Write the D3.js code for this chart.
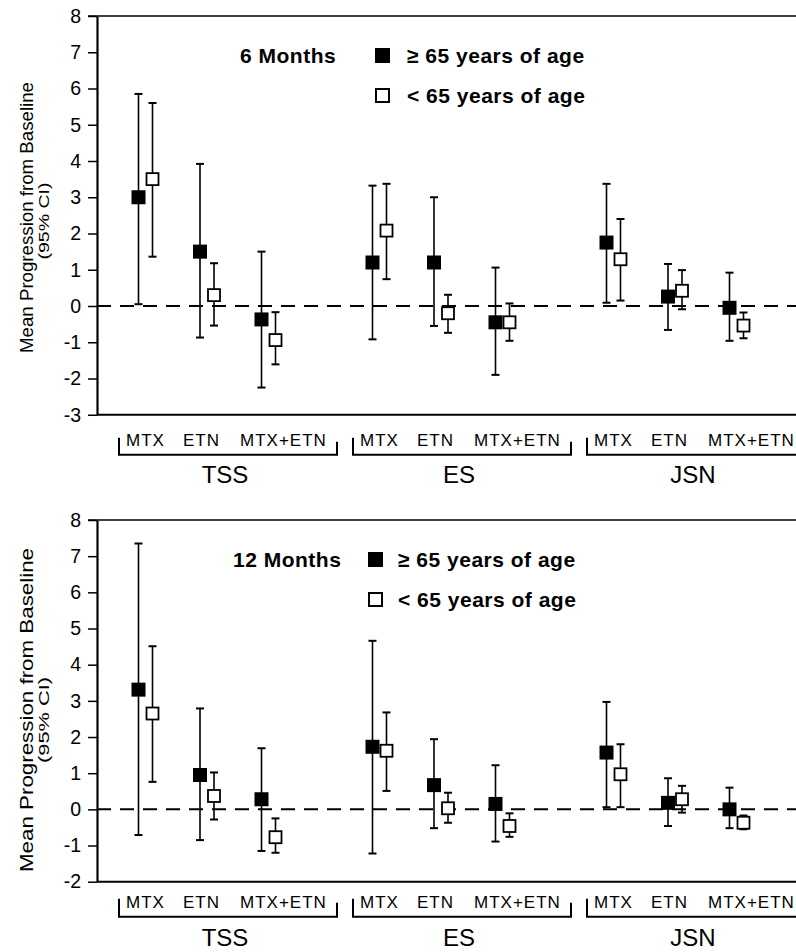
<!DOCTYPE html>
<html>
<head>
<meta charset="utf-8">
<script src="https://cdn.jsdelivr.net/npm/d3@7"></script>
<style>
body { margin: 0; background: #fff; }
svg { display: block; font-family: "Liberation Sans", Arial, sans-serif; }
</style>
</head>
<body>
<div id="chart"></div>
<script>
// Groupes de mesures, traitements et légende
const groupes = ["TSS", "ES", "JSN"];
const traitements = ["MTX", "ETN", "MTX+ETN"];
const agesLegende = ["≥ 65 years of age", "< 65 years of age"];
const ticks6 = [-3, -2, -1, 0, 1, 2, 3, 4, 5, 6, 7, 8];
const ticks12 = [-2, -1, 0, 1, 2, 3, 4, 5, 6, 7, 8];

// 6 mois : ordre TSS(MTX, ETN, MTX+ETN), ES(...), JSN(...)
const moy6Vieux = [3.0, 1.5, -0.37, 1.2, 1.2, -0.45, 1.75, 0.26, -0.05];
const bas6Vieux = [0.05, -0.87, -2.25, -0.92, -0.55, -1.9, 0.09, -0.66, -0.96];
const haut6Vieux = [5.85, 3.92, 1.5, 3.32, 3.0, 1.06, 3.37, 1.16, 0.92];
const moy6Jeunes = [3.5, 0.3, -0.94, 2.08, -0.2, -0.45, 1.29, 0.42, -0.54];
const bas6Jeunes = [1.36, -0.54, -1.61, 0.74, -0.74, -0.96, 0.15, -0.09, -0.89];
const haut6Jeunes = [5.6, 1.18, -0.17, 3.37, 0.31, 0.07, 2.4, 0.99, -0.18];

// 12 mois
const moy12Vieux = [3.31, 0.95, 0.28, 1.73, 0.67, 0.15, 1.57, 0.18, 0.0];
const bas12Vieux = [-0.71, -0.85, -1.15, -1.22, -0.52, -0.89, 0.06, -0.46, -0.52];
const haut12Vieux = [7.35, 2.79, 1.69, 4.66, 1.94, 1.22, 2.97, 0.86, 0.6];
const moy12Jeunes = [2.65, 0.37, -0.77, 1.62, 0.03, -0.46, 0.97, 0.28, -0.37];
const bas12Jeunes = [0.76, -0.28, -1.2, 0.51, -0.37, -0.76, 0.06, -0.09, -0.55];
const haut12Jeunes = [4.51, 1.02, -0.25, 2.68, 0.46, -0.11, 1.8, 0.65, -0.17];

const width = 796;
const height = 952;

const svg = d3.select("#chart")
    .append("svg")
    .attr("width", width)
    .attr("height", height);

svg.append("rect").attr("width", width).attr("height", height).attr("fill", "#fff");

// Échelles horizontales (partagées)
const x0 = d3.scaleBand().domain(groupes).range([86.5, 788.5]);
const w = x0.bandwidth();
const xIn = d3.scalePoint().domain(traitements).range([w / 2 - 58, w / 2 + 65]);
const xLab = d3.scalePoint().domain(traitements).range([w / 2 + 3.5 - 81, w / 2 + 3.5 + 33]);
const decalage = { vieux: -7, jeunes: 7 };

// Construire les points d'un panneau
const construire = (moyV, basV, hautV, moyJ, basJ, hautJ) => {
    const pts = [];
    groupes.forEach((g, gi) => {
        traitements.forEach((t, ti) => {
            const i = gi * 3 + ti;
            pts.push({ g, t, age: "vieux", m: moyV[i], lo: basV[i], hi: hautV[i] });
            pts.push({ g, t, age: "jeunes", m: moyJ[i], lo: basJ[i], hi: hautJ[i] });
        });
    });
    return pts;
};

const panneaux = [
    {
        titre: "6 Months", domaine: [-3, 8], y0: 16, y1: 414.75, ticks: ticks6,
        points: construire(moy6Vieux, bas6Vieux, haut6Vieux, moy6Jeunes, bas6Jeunes, haut6Jeunes),
        leg: { tx: 240, sx: 375, lx: 407, ty: 63 },
        tit: { c: 217.5, len: 271, c2: 221, len2: 77 },
        bas: { lab: 31, br: 40, tk: 17, grp: 68 }
    },
    {
        titre: "12 Months", domaine: [-2, 8], y0: 520, y1: 881.7, ticks: ticks12,
        points: construire(moy12Vieux, bas12Vieux, haut12Vieux, moy12Jeunes, bas12Jeunes, haut12Jeunes),
        leg: { tx: 233, sx: 368, lx: 398, ty: 567 },
        tit: { c: 710, len: 324, c2: 720, len2: 86 },
        bas: { lab: 26, br: 35, tk: 18, grp: 64 }
    }
];

const axeX = 97;
const px = d => x0(d.g) + xIn(d.t) + decalage[d.age];

panneaux.forEach(p => {
    const y = d3.scaleLinear().domain(p.domaine).range([p.y1, p.y0]);
    const g = svg.append("g");

    // Ligne zéro en tirets
    g.append("line")
        .attr("x1", axeX).attr("x2", width)
        .attr("y1", y(0)).attr("y2", y(0))
        .attr("stroke", "#000").attr("stroke-width", 2)
        .attr("stroke-dasharray", "14,9");

    // Cadre haut et bas
    g.append("line").attr("x1", axeX - 9).attr("x2", width)
        .attr("y1", y(p.domaine[1])).attr("y2", y(p.domaine[1]))
        .attr("stroke", "#000").attr("stroke-width", 1.5);
    g.append("line").attr("x1", axeX).attr("x2", width)
        .attr("y1", y(p.domaine[0])).attr("y2", y(p.domaine[0]))
        .attr("stroke", "#000").attr("stroke-width", 2);

    // Axe vertical
    const axe = g.append("g")
        .attr("transform", `translate(${axeX},0)`)
        .call(d3.axisLeft(y).tickValues(p.ticks).tickSize(9).tickSizeOuter(0).tickPadding(7).tickFormat(d => String(d)));
    axe.select(".domain").attr("stroke-width", 2.2);
    axe.selectAll(".tick line").attr("stroke-width", 1.5);
    axe.selectAll(".tick text")
        .attr("font-family", "'Liberation Sans', Arial, sans-serif")
        .attr("font-size", 19.5)
        .attr("fill", "#000");

    // Titre de l'axe
    g.append("text")
        .attr("transform", `translate(33,${p.tit.c}) rotate(-90)`)
        .attr("text-anchor", "middle")
        .attr("font-size", 18.5)
        .attr("textLength", p.tit.len)
        .attr("lengthAdjust", "spacingAndGlyphs")
        .text("Mean Progression from Baseline");
    g.append("text")
        .attr("transform", `translate(49,${p.tit.c2}) rotate(-90)`)
        .attr("text-anchor", "middle")
        .attr("font-size", 14)
        .attr("textLength", p.tit.len2)
        .attr("lengthAdjust", "spacingAndGlyphs")
        .text("(95% CI)");

    // Barres d'erreur
    const barres = g.selectAll(".err").data(p.points).enter().append("g").attr("class", "err");
    barres.append("line")
        .attr("x1", px).attr("x2", px)
        .attr("y1", d => y(d.lo)).attr("y2", d => y(d.hi))
        .attr("stroke", "#000").attr("stroke-width", 1.6);
    ["lo", "hi"].forEach(k => {
        barres.append("line")
            .attr("x1", d => px(d) - 4).attr("x2", d => px(d) + 4)
            .attr("y1", d => y(d[k])).attr("y2", d => y(d[k]))
            .attr("stroke", "#000").attr("stroke-width", 2);
    });

    // Marqueurs
    g.selectAll(".mk").data(p.points).enter().append("rect")
        .attr("class", "mk")
        .attr("x", d => px(d) - (d.age === "vieux" ? 7 : 6))
        .attr("y", d => y(d.m) - (d.age === "vieux" ? 7 : 6))
        .attr("width", d => d.age === "vieux" ? 14 : 12)
        .attr("height", d => d.age === "vieux" ? 14 : 12)
        .attr("fill", d => d.age === "vieux" ? "#000" : "#fff")
        .attr("stroke", "#000")
        .attr("stroke-width", d => d.age === "vieux" ? 0 : 1.8);

    // Légende
    g.append("text")
        .attr("x", p.leg.tx).attr("y", p.leg.ty)
        .attr("font-size", 21).attr("font-weight", "bold")
        .attr("letter-spacing", 0.5)
        .text(p.titre);
    agesLegende.forEach((lab, i) => {
        const by = p.leg.ty + i * 40;
        g.append("rect")
            .attr("x", p.leg.sx + (i ? 1 : 0)).attr("y", by - 15 + (i ? 1 : 0))
            .attr("width", i ? 13 : 15).attr("height", i ? 13 : 15)
            .attr("fill", i ? "#fff" : "#000")
            .attr("stroke", "#000").attr("stroke-width", i ? 2 : 0);
        g.append("text")
            .attr("x", p.leg.lx).attr("y", by)
            .attr("font-size", 21).attr("font-weight", "bold")
            .attr("letter-spacing", 0.5)
            .text(lab);
    });

    // Étiquettes des traitements, accolades et groupes
    const base = p.y1;
    groupes.forEach(gr => {
        traitements.forEach(t => {
            g.append("text")
                .attr("x", x0(gr) + xLab(t)).attr("y", base + p.bas.lab)
                .attr("font-size", 17).attr("letter-spacing", 1)
                .text(t);
        });
        const xa = x0(gr) + w / 2 + 3.5 - 88;
        const xb = x0(gr) + w / 2 + 3.5 + 130;
        const yb = base + p.bas.br;
        g.append("path")
            .attr("d", `M${xa},${yb - p.bas.tk}V${yb}H${xb}V${yb - p.bas.tk + 4}`)
            .attr("fill", "none").attr("stroke", "#000").attr("stroke-width", 2);
        g.append("text")
            .attr("x", (xa + xb) / 2 - 3).attr("y", base + p.bas.grp)
            .attr("text-anchor", "middle")
            .attr("font-size", 24)
            .text(gr);
    });
});
</script>
</body>
</html>
